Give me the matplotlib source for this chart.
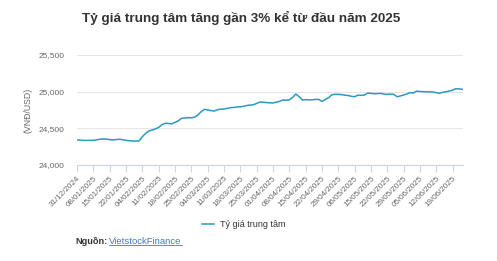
import matplotlib.pyplot as plt
from matplotlib.ticker import FuncFormatter

plt.rcParams['font.family'] = ['Liberation Sans', 'DejaVu Sans']

# Central rate (VND/USD), one value per trading day
rate = [
    24340, 24338, 24335, 24334, 24336, 24335, 24342, 24350, 24354, 24352,
    24346, 24340, 24346, 24350, 24344, 24336, 24330, 24327, 24326, 24328,
    24385, 24430, 24462, 24476, 24490, 24512, 24548, 24567, 24565, 24560,
    24580, 24600, 24635, 24640, 24644, 24642, 24650, 24680, 24725, 24757,
    24750, 24740, 24734, 24752, 24760, 24762, 24770, 24780, 24784, 24789,
    24792, 24798, 24810, 24815, 24820, 24838, 24857, 24853, 24850, 24846,
    24844, 24855, 24866, 24884, 24882, 24886, 24920, 24966, 24930, 24884,
    24890, 24886, 24888, 24892, 24893, 24866, 24890, 24915, 24955, 24962,
    24961, 24958, 24950, 24946, 24935, 24929, 24950, 24948, 24952, 24979,
    24975, 24970, 24972, 24975, 24965, 24961, 24965, 24961, 24929, 24940,
    24952, 24968, 24984, 24980, 25006, 25000, 24998, 24997, 24995, 24993,
    24985, 24975, 24990, 24997, 25006, 25020, 25038, 25036, 25030,
]

tick_labels = [
    '31/12/2024', '08/01/2025', '15/01/2025', '22/01/2025', '04/02/2025',
    '11/02/2025', '18/02/2025', '25/02/2025', '04/03/2025', '11/03/2025',
    '18/03/2025', '25/03/2025', '01/04/2025', '08/04/2025', '15/04/2025',
    '22/04/2025', '29/04/2025', '06/05/2025', '15/05/2025', '22/05/2025',
    '29/05/2025', '05/06/2025', '12/06/2025', '19/06/2025',
]
tick_step = 5

y_ticks = [24000, 24500, 25000, 25500]

fig = plt.figure(figsize=(4.97, 2.61), dpi=100)
ax = fig.add_axes([0.155, 0.368, 0.776, 0.422])

ax.plot(range(len(rate)), rate, color='#2a9ac0', linewidth=1.1,
        label='Tỷ giá trung tâm', zorder=3)

ax.set_xlim(0, len(rate) - 0.9)
ax.set_ylim(24000, 25500)
ax.set_yticks(y_ticks)
ax.yaxis.set_major_formatter(FuncFormatter(lambda v, p: f'{int(v):,}'))
ax.grid(axis='y', color='#e6e6e6', linewidth=0.8)
ax.set_axisbelow(True)

ax.set_xticks([i * tick_step for i in range(len(tick_labels))])
ax.set_xticklabels(tick_labels, rotation=45, ha='right',
                   rotation_mode='anchor', fontsize=5.8, color='#666666')
ax.tick_params(axis='x', length=5, color='#ccd6eb', width=0.8, pad=2)
ax.tick_params(axis='y', length=0, labelsize=6, labelcolor='#666666', pad=9)

for s in ['top', 'right', 'left']:
    ax.spines[s].set_visible(False)
ax.spines['bottom'].set_color('#ccd6eb')
ax.spines['bottom'].set_linewidth(0.8)

ax.set_ylabel('(VNĐ/USD)', fontsize=6.3, color='#666666', labelpad=4)

fig.text(0.486, 0.93, 'Tỷ giá trung tâm tăng gần 3% kể từ đầu năm 2025',
         ha='center', va='center', fontsize=9.7, fontweight='bold', color='#333333')

leg = fig.legend(loc='center', bbox_to_anchor=(0.49, 0.138), frameon=False,
                 fontsize=6.5, handlelength=1.4, handletextpad=0.6)
for t in leg.get_texts():
    t.set_color('#333333')

src = fig.text(0.151, 0.076, 'Nguồn:', ha='left', va='center', fontsize=6.6,
               fontweight='bold', color='#333333')
link = ax.annotate('VietstockFinance', xy=(1, 0.5), xycoords=src,
                   xytext=(1.5, 0), textcoords='offset points', ha='left', va='center',
                   fontsize=6.8, color='#3c7bc0', url='https://finance.vietstock.vn',
                   annotation_clip=False)

# underline the link under its drawn extent
fig.canvas.draw()
bb = link.get_window_extent().transformed(fig.transFigure.inverted())
fig.add_artist(plt.Line2D([bb.x0, bb.x1], [bb.y0 + 0.004, bb.y0 + 0.004],
                          color='#3c7bc0', linewidth=0.6, transform=fig.transFigure))

fig.savefig('out.png', dpi=100)
